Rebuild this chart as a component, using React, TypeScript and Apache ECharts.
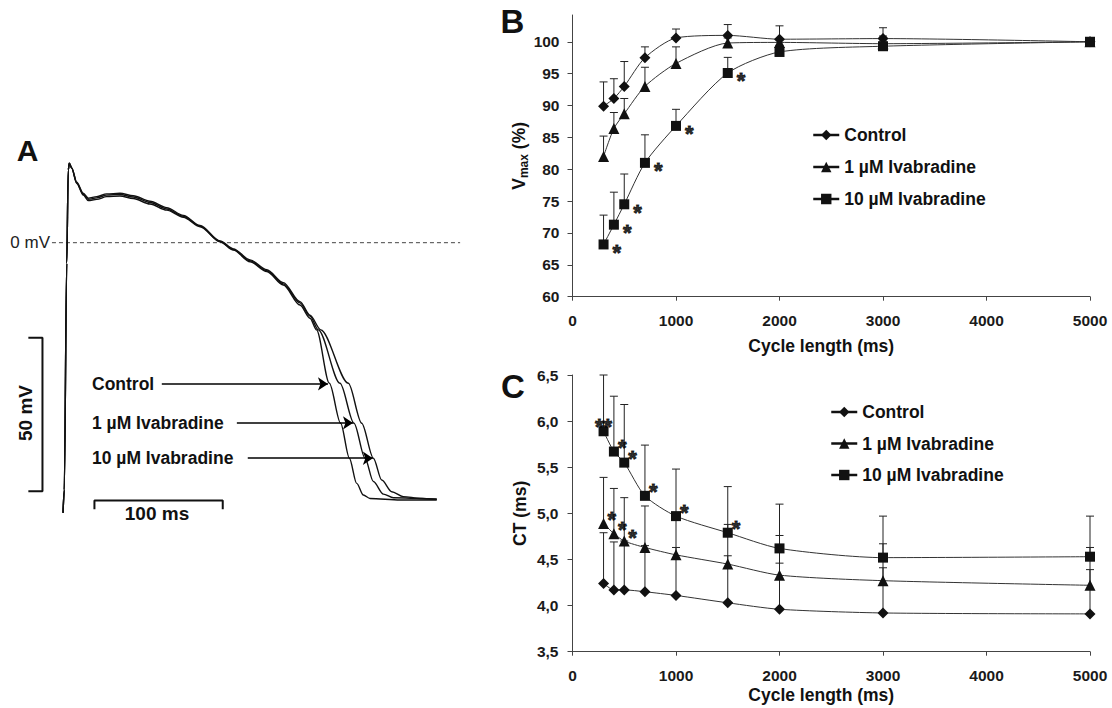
import React, { useEffect, useRef } from "react";
import * as echarts from "echarts";

const FONT = "'Liberation Sans', Arial, Helvetica, sans-serif";

// ---------- Panel A: action potentials [time (ms), potential (mV)] ----------
const apControl: number[][] = [
  [0, -88], [1, -80.5], [2.9, -6.7], [4.1, 23.7], [4.9, 25.9], [6.8, 24.2], [10.7, 19.3],
  [15.8, 15.5], [19.7, 13.7], [26.3, 14.1], [34, 15], [44.4, 15.2], [54.8, 14.4], [67.8, 12.6],
  [80.8, 10.6], [93.8, 8.3], [106.8, 5.2], [122.4, 0.3], [132.8, -2.4], [145.8, -6.2],
  [158.8, -9.4], [171.7, -13.8], [184.7, -20.3], [192.5, -24.6], [197.6, -28.4], [207.6, -45.8],
  [216.4, -58.8], [223.2, -70.2], [228.9, -78.4], [234.1, -82.2], [239.3, -83.3], [262.7, -83.8],
  [291.3, -83.8],
];
const apIva1: number[][] = [
  [0, -88], [1, -80.5], [2.9, -6.7], [4.1, 23.7], [4.9, 25.9], [6.8, 24.3], [10.7, 19.5],
  [15.8, 15.8], [19.7, 14.1], [26.3, 14.6], [34, 15.5], [44.4, 15.7], [54.8, 14.9], [67.8, 13.1],
  [80.8, 11], [93.8, 8.6], [106.8, 5.4], [122.4, 0.4], [132.8, -2.2], [145.8, -5.9],
  [158.8, -9.1], [171.7, -13.4], [184.7, -19.6], [192.5, -23.9], [199, -28.4], [215.9, -45.8],
  [226.8, -58.8], [235.4, -70.2], [241.9, -77.8], [249.7, -81.9], [257.5, -83.1], [291.3, -83.6],
];
const apIva10: number[][] = [
  [0, -88], [1, -80.5], [2.9, -6.7], [4.1, 23.7], [4.9, 25.9], [6.8, 24.4], [10.7, 19.7],
  [15.8, 16.1], [19.7, 14.5], [26.3, 15], [34, 15.9], [44.4, 16.1], [54.8, 15.3], [67.8, 13.5],
  [80.8, 11.4], [93.8, 8.9], [106.8, 5.6], [122.4, 0.6], [132.8, -2], [145.8, -5.6],
  [158.8, -8.8], [171.7, -13], [184.7, -19.2], [192.5, -23.6], [200.9, -28.4], [222.4, -45.8],
  [232.8, -58.8], [241.9, -70.2], [248.4, -77.3], [256.2, -81.1], [265.2, -82.7], [278.3, -83.3],
  [291.3, -83.5],
];
const traceLabels = ["Control", "1 µM Ivabradine", "10 µM Ivabradine"];
const arrowLevelsMv = [-46, -58.7, -70.2];
const arrowStartMs = [77, 135.5, 144];
const arrowEndMs = [206.5, 226, 241.5];
const zeroLineMs = [-8.6, 309.5];
const voltBar = [[-27, -31], [-16, -31], [-16, -81], [-27, -81]];
const timeBar = [[24.5, -86.8], [24.5, -84], [124.5, -84], [124.5, -86.8]];

// ---------- Panels B & C ----------
const cycleLengths = [300, 400, 500, 700, 1000, 1500, 2000, 3000, 5000];
const seriesNames = ["Control", "1 µM Ivabradine", "10 µM Ivabradine"];

const vmaxControl = [89.9, 91.1, 93.0, 97.5, 100.6, 101.0, 100.4, 100.5, 100];
const vmaxControlSem = [3.8, 3.1, 3.9, 1.7, 1.4, 1.7, 2.1, 1.7, 0];
const vmaxIva1 = [82.0, 86.4, 88.7, 93.0, 96.6, 99.8, 99.9, 99.7, 100];
const vmaxIva1Sem = [3.2, 2.5, 2.4, 3.0, 2.6, 0.8, 0.6, 1.2, 0];
const vmaxIva10 = [68.2, 71.3, 74.5, 81.0, 86.8, 95.1, 98.4, 99.3, 100];
const vmaxIva10Sem = [4.6, 5.1, 4.75, 4.4, 2.6, 2.45, 1.0, 0.8, 0];
const vmaxIva10Sig = ["*", "*", "*", "*", "*", "*", "", "", ""];

const ctControl = [4.24, 4.17, 4.17, 4.15, 4.11, 4.03, 3.96, 3.92, 3.91];
const ctControlSem = [0.55, 0.52, 0.53, 0.5, 0.52, 0.51, 0.5, 0.49, 0.48];
const ctIva1 = [4.89, 4.78, 4.7, 4.63, 4.55, 4.45, 4.33, 4.27, 4.22];
const ctIva1Sem = [0.5, 0.49, 0.47, 0.45, 0.43, 0.43, 0.43, 0.4, 0.41];
const ctIva1Sig = ["*", "*", "*", "", "", "", "", "", ""];
const ctIva10 = [5.89, 5.67, 5.55, 5.19, 4.97, 4.79, 4.62, 4.52, 4.53];
const ctIva10Sem = [0.61, 0.6, 0.63, 0.55, 0.51, 0.5, 0.48, 0.45, 0.44];
const ctIva10Sig = ["**", "*", "*", "*", "*", "*", "", "", ""];

const vmaxTicks = [60, 65, 70, 75, 80, 85, 90, 95, 100];

const symbols = ["diamond", "triangle", "rect"];
const symbolSizes = [11, 11, 10];

const INK = "#111";
const AXIS = "#444";

function errRender(params: any, api: any) {
  const x = api.value(0);
  const y = api.value(1);
  const e = api.value(2);
  const p0 = api.coord([x, y]);
  const p1 = api.coord([x, y + e]);
  const st = { stroke: "#222", lineWidth: 1 };
  return {
    type: "group",
    children: [
      { type: "line", shape: { x1: p0[0], y1: p0[1], x2: p1[0], y2: p1[1] }, style: st },
      { type: "line", shape: { x1: p1[0] - 4, y1: p1[1], x2: p1[0] + 4, y2: p1[1] }, style: st },
    ],
  };
}

function panelSeries(idx: number, means: number[][], sems: number[][], sigs: (string[] | null)[], sigStyle: any) {
  const out: any[] = [];
  means.forEach((m, k) => {
    out.push({
      type: "custom",
      name: "err" + idx + "_" + k,
      xAxisIndex: idx,
      yAxisIndex: idx,
      z: 1,
      silent: true,
      renderItem: errRender,
      dimensions: ["x", "y", "e"],
      encode: { x: 0, y: 1 },
      data: cycleLengths.map((c, i) => [c, m[i], sems[k][i]]),
    });
  });
  means.forEach((m, k) => {
    out.push({
      type: "line",
      name: seriesNames[k],
      xAxisIndex: idx,
      yAxisIndex: idx,
      z: 3,
      smooth: 0.25,
      symbol: symbols[k],
      symbolSize: symbolSizes[k],
      showAllSymbol: true,
      itemStyle: { color: INK },
      lineStyle: { color: "#333", width: 1 },
      emphasis: { disabled: true },
      data: cycleLengths.map((c, i) => [c, m[i]]),
    });
  });
  sigs.forEach((s, k) => {
    if (!s) return;
    out.push({
      type: "scatter",
      name: "sig" + idx + "_" + k,
      xAxisIndex: idx,
      yAxisIndex: idx,
      z: 4,
      silent: true,
      symbolSize: 0,
      label: {
        show: true,
        formatter: (p: any) => p.data.sig,
        fontFamily: FONT,
        fontSize: 22,
        fontWeight: "bold",
        color: "#000",
        textBorderColor: "#000",
        textBorderWidth: 0.9,
        ...sigStyle,
      },
      data: cycleLengths
        .map((c, i) => ({ value: [c, means[k][i]], sig: s[i] }))
        .filter((d) => d.sig)
        .map((d) =>
          d.sig.length > 1
            ? { ...d, label: { position: "top", distance: 0, offset: [0, 6] } }
            : d
        ),
    });
  });
  return out;
}

export default function App() {
  const ref = useRef<HTMLDivElement>(null);
  useEffect(() => {
    if (!ref.current) return;
    const chart = echarts.init(ref.current, undefined, { renderer: "svg" });

    const tickLabel = { fontFamily: FONT, fontSize: 15.5, fontWeight: "bold", color: "#1a1a1a" };
    const axisLine = { show: true, onZero: false, lineStyle: { color: AXIS, width: 1 } };
    const titleStyle = { fontFamily: FONT, fontSize: 17.5, fontWeight: "bold", color: INK };

    const xCycleAxis = (gridIndex: number, nameGap: number) => ({
      gridIndex,
      type: "value",
      min: 0,
      max: 5000,
      interval: 1000,
      axisLine,
      axisTick: { show: true, length: 4, lineStyle: { color: AXIS } },
      axisLabel: { ...tickLabel, margin: 16, formatter: (v: number) => String(v) },
      splitLine: { show: false },
      name: "Cycle length (ms)",
      nameLocation: "middle",
      nameGap,
      nameTextStyle: { ...titleStyle, padding: [0, 20, 0, 0] },
    });

    const apSeries = [apControl, apIva1, apIva10].map((d, i) => ({
      type: "line",
      name: "AP " + traceLabels[i],
      xAxisIndex: 0,
      yAxisIndex: 0,
      z: 3,
      showSymbol: false,
      smooth: 0.3,
      smoothMonotone: "x",
      lineStyle: { color: INK, width: 1.4 },
      emphasis: { disabled: true },
      silent: true,
      data: d,
      markLine: {
        silent: true,
        animation: false,
        symbol: ["none", "arrow"],
        symbolSize: 10,
        label: { show: false },
        lineStyle: { color: "#000", width: 1.6, type: "solid" },
        emphasis: { disabled: true },
        data: [
          [
            { coord: [arrowStartMs[i], arrowLevelsMv[i]] },
            { coord: [arrowEndMs[i], arrowLevelsMv[i]] },
          ],
        ],
      },
    }));

    const option: any = {
      animation: false,
      backgroundColor: "#fff",
      textStyle: { fontFamily: FONT },
      grid: [
        { left: 0.13, top: 119.9, width: 500.4, height: 429.8, outerBoundsMode: "none" },
        { left: 572.5, top: 15, width: 517.5, height: 281.7, outerBoundsMode: "none" },
        { left: 572.5, top: 375, width: 517.5, height: 276.7, outerBoundsMode: "none" },
      ],
      xAxis: [
        { gridIndex: 0, type: "value", min: -49, max: 341, show: false },
        xCycleAxis(1, 40),
        xCycleAxis(2, 34),
      ],
      yAxis: [
        { gridIndex: 0, type: "value", min: -100, max: 40, show: false },
        {
          gridIndex: 1,
          type: "value",
          min: 60,
          max: 104.2,
          interval: 5,
          axisLine,
          axisTick: { show: true, length: 5, customValues: vmaxTicks, lineStyle: { color: AXIS } },
          axisLabel: {
            ...tickLabel,
            margin: 13,
            customValues: vmaxTicks,
            formatter: (v: number) => (Math.abs(v % 5) < 1e-9 ? String(v) : ""),
          },
          splitLine: { show: false },
          name: "{a|V}{b|max}{a| (%)}",
          nameLocation: "middle",
          nameGap: 38,
          nameTextStyle: {
            rich: {
              a: { fontFamily: FONT, fontSize: 17.5, fontWeight: "bold", color: INK, lineHeight: 20, verticalAlign: "top" },
              b: { fontFamily: FONT, fontSize: 12, fontWeight: "bold", color: INK, lineHeight: 12, verticalAlign: "bottom", padding: [10, 0, 0, 0] },
            },
          },
        },
        {
          gridIndex: 2,
          type: "value",
          min: 3.5,
          max: 6.5,
          interval: 0.5,
          axisLine,
          axisTick: { show: true, length: 5, lineStyle: { color: AXIS } },
          axisLabel: { ...tickLabel, margin: 14, formatter: (v: number) => v.toFixed(1).replace(".", ",") },
          splitLine: { show: false },
          name: "CT (ms)",
          nameLocation: "middle",
          nameGap: 44,
          nameTextStyle: titleStyle,
        },
      ],
      legend: [
        {
          data: seriesNames,
          left: 807,
          top: 121,
          orient: "vertical",
          itemWidth: 26,
          itemHeight: 13,
          itemGap: 14,
          selectedMode: false,
          lineStyle: { width: 2.5, color: INK },
          textStyle: { ...titleStyle, lineHeight: 18 },
        },
        {
          data: seriesNames,
          left: 825,
          top: 398,
          orient: "vertical",
          itemWidth: 26,
          itemHeight: 13,
          itemGap: 13.5,
          selectedMode: false,
          lineStyle: { width: 2.5, color: INK },
          textStyle: { ...titleStyle, lineHeight: 18 },
        },
      ],
      series: [
        {
          type: "line",
          name: "zero",
          xAxisIndex: 0,
          yAxisIndex: 0,
          z: 1,
          silent: true,
          showSymbol: false,
          lineStyle: { color: "#444", width: 1, type: [4, 3] },
          data: zeroLineMs.map((t) => [t, 0]),
        },
        {
          type: "line",
          name: "voltBar",
          xAxisIndex: 0,
          yAxisIndex: 0,
          silent: true,
          showSymbol: false,
          lineStyle: { color: INK, width: 2 },
          data: voltBar,
        },
        {
          type: "line",
          name: "timeBar",
          xAxisIndex: 0,
          yAxisIndex: 0,
          silent: true,
          showSymbol: false,
          lineStyle: { color: INK, width: 2 },
          data: timeBar,
        },
        ...apSeries,
        ...panelSeries(
          1,
          [vmaxControl, vmaxIva1, vmaxIva10],
          [vmaxControlSem, vmaxIva1Sem, vmaxIva10Sem],
          [null, null, vmaxIva10Sig],
          { position: "right", distance: 9, offset: [0, 8] }
        ),
        ...panelSeries(
          2,
          [ctControl, ctIva1, ctIva10],
          [ctControlSem, ctIva1Sem, ctIva10Sem],
          [null, ctIva1Sig, ctIva10Sig],
          { position: "right", distance: 4, offset: [0, -4] }
        ),
      ],
      graphic: [
        { type: "text", x: 27.5, y: 150, style: { text: "A", fontFamily: FONT, fontSize: 30, fontWeight: "bold", fill: INK, align: "center", verticalAlign: "middle" } },
        { type: "text", x: 512.5, y: 21.5, style: { text: "B", fontFamily: FONT, fontSize: 33, fontWeight: "bold", fill: INK, align: "center", verticalAlign: "middle" } },
        { type: "text", x: 513, y: 386, style: { text: "C", fontFamily: FONT, fontSize: 33, fontWeight: "bold", fill: INK, align: "center", verticalAlign: "middle" } },
        { type: "text", x: 50, y: 242.7, style: { text: "0 mV", fontFamily: FONT, fontSize: 17, fill: "#222", align: "right", verticalAlign: "middle" } },
        { type: "text", x: 25, y: 413, rotation: Math.PI / 2, style: { text: "50 mV", fontFamily: FONT, fontSize: 19, fontWeight: "bold", fill: INK, align: "center", verticalAlign: "middle" } },
        { type: "text", x: 157, y: 513, style: { text: "100 ms", fontFamily: FONT, fontSize: 19, fontWeight: "bold", fill: INK, align: "center", verticalAlign: "middle" } },
        { type: "text", x: 92, y: 384, style: { text: traceLabels[0], fontFamily: FONT, fontSize: 17.5, fontWeight: "bold", fill: INK, align: "left", verticalAlign: "middle" } },
        { type: "text", x: 92, y: 422.7, style: { text: traceLabels[1], fontFamily: FONT, fontSize: 17.5, fontWeight: "bold", fill: INK, align: "left", verticalAlign: "middle" } },
        { type: "text", x: 92, y: 458.3, style: { text: traceLabels[2], fontFamily: FONT, fontSize: 17.5, fontWeight: "bold", fill: INK, align: "left", verticalAlign: "middle" } },
      ],
    };

    chart.setOption(option);
    return () => chart.dispose();
  }, []);

  return (
    <div
      ref={ref}
      style={{ position: "fixed", left: 0, top: 0, width: 1112, height: 708, background: "#fff" }}
    />
  );
}
